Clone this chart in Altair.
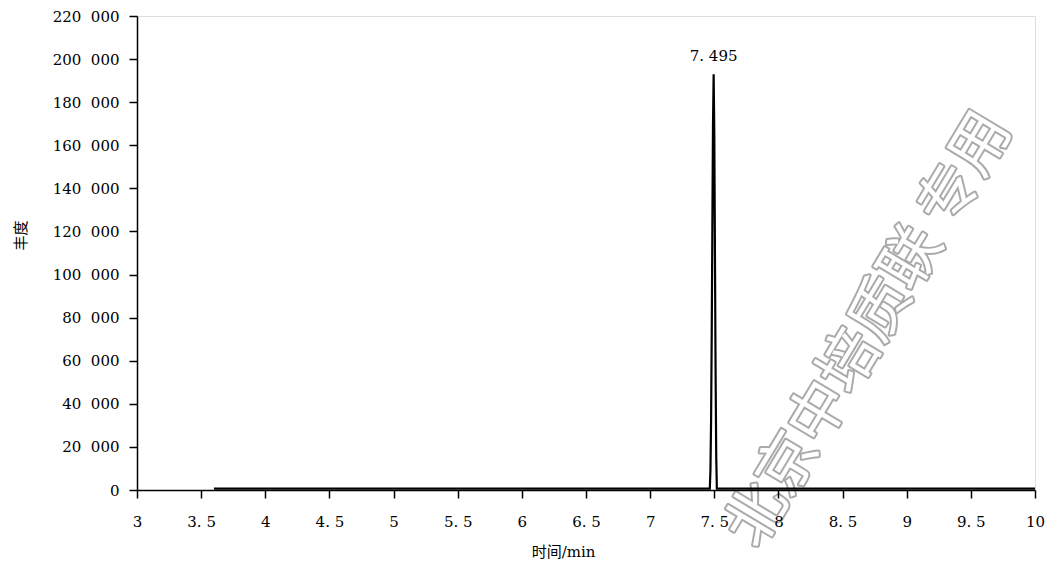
import altair as alt
import pandas as pd

# Chromatogram trace (time in min, abundance)
times = [3.60, 4.20, 5.00, 5.80, 6.60, 7.30, 7.465, 7.470, 7.475, 7.480, 7.485, 7.490,
         7.495, 7.500, 7.505, 7.510, 7.515, 7.520, 7.600, 8.400, 9.200, 10.00]
abund = [600, 600, 620, 600, 610, 600, 600, 9000, 32000, 72000, 122000, 170000,
         193000, 166000, 112000, 56000, 16000, 600, 620, 600, 610, 600]

peak_time = [7.495]
peak_abund = [193000]
peak_label = ["7. 495"]

x_ticks = [3, 3.5, 4, 4.5, 5, 5.5, 6, 6.5, 7, 7.5, 8, 8.5, 9, 9.5, 10]
y_ticks = [0, 20000, 40000, 60000, 80000, 100000, 120000, 140000, 160000, 180000, 200000, 220000]

watermark = ["北京中培质联 专用"]

FONT = "DejaVu Serif, Noto Sans CJK SC"

trace = pd.DataFrame({"t": times, "a": abund})
peak = pd.DataFrame({"t": peak_time, "a": peak_abund, "lab": peak_label})
wm = pd.DataFrame({"w": watermark})

x_scale = alt.Scale(domain=[3, 10], nice=False, zero=False)
y_scale = alt.Scale(domain=[0, 220000], nice=False)

x_axis = alt.Axis(
    values=x_ticks, title="时间/min", grid=False, domain=True, domainColor="black",
    domainWidth=1.5, tickColor="black", tickWidth=1.5, tickSize=8, labelPadding=16,
    labelExpr="replace(format(datum.value, ''), '.', '. ')", labelFont=FONT, labelFontSize=15,
    labelColor="black", labelFlush=False, titleFont=FONT, titleFontSize=15,
    titleFontWeight="normal", titleColor="black", titleX=426, titleY=61,
    titleBaseline="middle", titleAnchor="middle", zindex=1)

y_axis = alt.Axis(
    values=y_ticks, title="丰度", grid=False, domain=True, domainColor="black",
    domainWidth=1.5, tickColor="black", tickWidth=1.5, tickSize=8, labelPadding=10,
    labelExpr="datum.value == 0 ? '0' : replace(format(datum.value, ','), ',', '\u2007')",
    labelFont=FONT, labelFontSize=15, labelColor="black", labelFlush=False,
    titleFont=FONT, titleFontSize=15, titleFontWeight="normal", titleColor="black",
    titleX=-117, titleY=219, titleAngle=270, titleBaseline="middle", titleAnchor="middle",
    zindex=1)

wm_base = alt.Chart(wm)
wm_outline = wm_base.mark_text(
    font="Noto Sans CJK SC", fontSize=60, angle=301, fill="#aaaaaa", stroke="#aaaaaa",
    strokeWidth=4, strokeJoin="round", align="center", baseline="middle"
).encode(text="w:N", x=alt.value(733), y=alt.value(314))
wm_inner = wm_base.mark_text(
    font="Noto Sans CJK SC", fontSize=60, angle=301, fill="white",
    align="center", baseline="middle"
).encode(text="w:N", x=alt.value(733), y=alt.value(314))

line = alt.Chart(trace).mark_line(color="black", strokeWidth=2.2, clip=True).encode(
    x=alt.X("t:Q", scale=x_scale, axis=x_axis),
    y=alt.Y("a:Q", scale=y_scale, axis=y_axis),
)

label = alt.Chart(peak).mark_text(
    font=FONT, fontSize=15, color="black", dy=-10, baseline="bottom", align="center"
).encode(x=alt.X("t:Q", scale=x_scale), y=alt.Y("a:Q", scale=y_scale), text="lab:N")

chart = alt.layer(wm_outline, wm_inner, line, label).properties(
    width=898, height=474,
    autosize=alt.AutoSizeParams(type="none"),
    padding={"left": 129, "top": 8, "right": 10, "bottom": 72},
).configure_view(stroke=None).configure(background="white")

chart.save("out.html", embed_options={"renderer": "svg", "actions": False})
